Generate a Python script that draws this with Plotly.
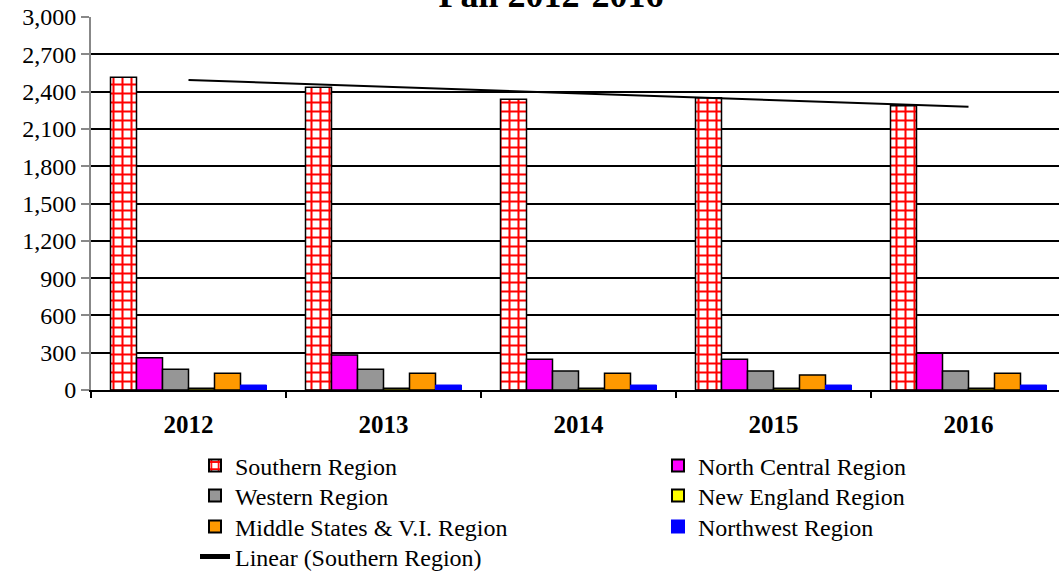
import numpy as np
import plotly.graph_objects as go

years = ["2012", "2013", "2014", "2015", "2016"]
southern = [2515, 2435, 2338, 2351, 2287]
north_central = [260, 281, 247, 247, 295]
western = [166, 166, 153, 153, 153]
new_england = [15, 15, 15, 15, 15]
middle_states = [134, 134, 134, 121, 134]
northwest = [40, 40, 40, 40, 40]

y_ticks = list(range(0, 3001, 300))

FONT = "Liberation Serif, Times New Roman, serif"
W, H = 1059, 573

# legend slot for each trace: (text-left x px, row centre y px)
legend_slots = {
    "legend": (235, 466), "legend2": (698, 466),
    "legend3": (235, 496), "legend4": (698, 496),
    "legend5": (235, 527), "legend6": (698, 527),
    "legend7": (235, 557),
}

fig = go.Figure()
fig.add_trace(go.Bar(
    name="Southern Region", x=years, y=southern, legend="legend", showlegend=True,
    marker=dict(color="white",
                pattern=dict(shape="+", fgcolor="#ff0000", bgcolor="white", size=9,
                             solidity=0.4, fgopacity=1),
                line=dict(color="black", width=1.5)),
))
fig.add_trace(go.Bar(name="North Central Region", x=years, y=north_central, legend="legend2",
                     marker=dict(color="#ff00ff", line=dict(color="black", width=1.5))))
fig.add_trace(go.Bar(name="Western Region", x=years, y=western, legend="legend3",
                     marker=dict(color="#969696", line=dict(color="black", width=1.5))))
fig.add_trace(go.Bar(name="New England Region", x=years, y=new_england, legend="legend4",
                     marker=dict(color="#ffff00", line=dict(color="black", width=1.5))))
fig.add_trace(go.Bar(name="Middle States & V.I. Region", x=years, y=middle_states, legend="legend5",
                     marker=dict(color="#ff9900", line=dict(color="black", width=1.5))))
fig.add_trace(go.Bar(name="Northwest Region", x=years, y=northwest, legend="legend6",
                     marker=dict(color="#0000ff", line=dict(color="#0000ff", width=1))))

# linear trendline of the Southern Region
idx = np.arange(len(years))
slope, intercept = np.polyfit(idx, southern, 1)
trend = slope * idx + intercept
fig.add_trace(go.Scatter(name="Linear (Southern Region)", x=years, y=trend, mode="lines",
                         legend="legend7", line=dict(color="black", width=2)))

L, R, T, B = 91, 0, 17, 183
cat_px = 195
plot_w = W - L - R
x_end = -0.5 + plot_w / cat_px

legend_layout = {}
for key, (tx, ty) in legend_slots.items():
    legend_layout[key] = dict(
        visible=True,
        x=(tx - 40) / W, xanchor="left", xref="container",
        y=1 - ty / H, yanchor="middle", yref="container",
        orientation="h", font=dict(family=FONT, size=24, color="black"),
        bgcolor="rgba(0,0,0,0)", borderwidth=0, itemsizing="constant",
    )

fig.update_layout(
    width=W, height=H,
    showlegend=True,
    margin=dict(l=L, r=R, t=T, b=B, pad=0, autoexpand=False),
    paper_bgcolor="white", plot_bgcolor="white",
    font=dict(family=FONT, size=24, color="black"),
    barmode="group", bargap=0.2, bargroupgap=0,
    hovermode=False,
    title=dict(text="<b>Fall 2012-2016</b>", font=dict(family=FONT, size=36, color="black"),
               x=551 / W, xanchor="center", xref="container",
               y=1 - 7 / H, yanchor="bottom", yref="container", automargin=False),
    xaxis=dict(type="category", range=[-0.5, x_end], showgrid=False,
               showline=True, linecolor="black", linewidth=2,
               ticks="outside", tickson="boundaries", ticklen=6, tickcolor="black", tickwidth=1.5,
               tickfont=dict(family=FONT, size=25, color="black", weight="bold"),
               ticklabelstandoff=11, tickangle=0, automargin=False),
    yaxis=dict(range=[0, 3000], tickvals=y_ticks, tickformat=",d",
               showgrid=True, gridcolor="black", gridwidth=1.5,
               showline=True, linecolor="#888888", linewidth=2,
               ticks="outside", ticklen=8, tickcolor="#888888", tickwidth=1.5,
               tickfont=dict(family=FONT, size=24, color="black"),
               zeroline=False, automargin=False),
    **legend_layout,
)

fig.write_html("out.html", config={"displayModeBar": False},
               post_script="document.body.style.margin='0';")
